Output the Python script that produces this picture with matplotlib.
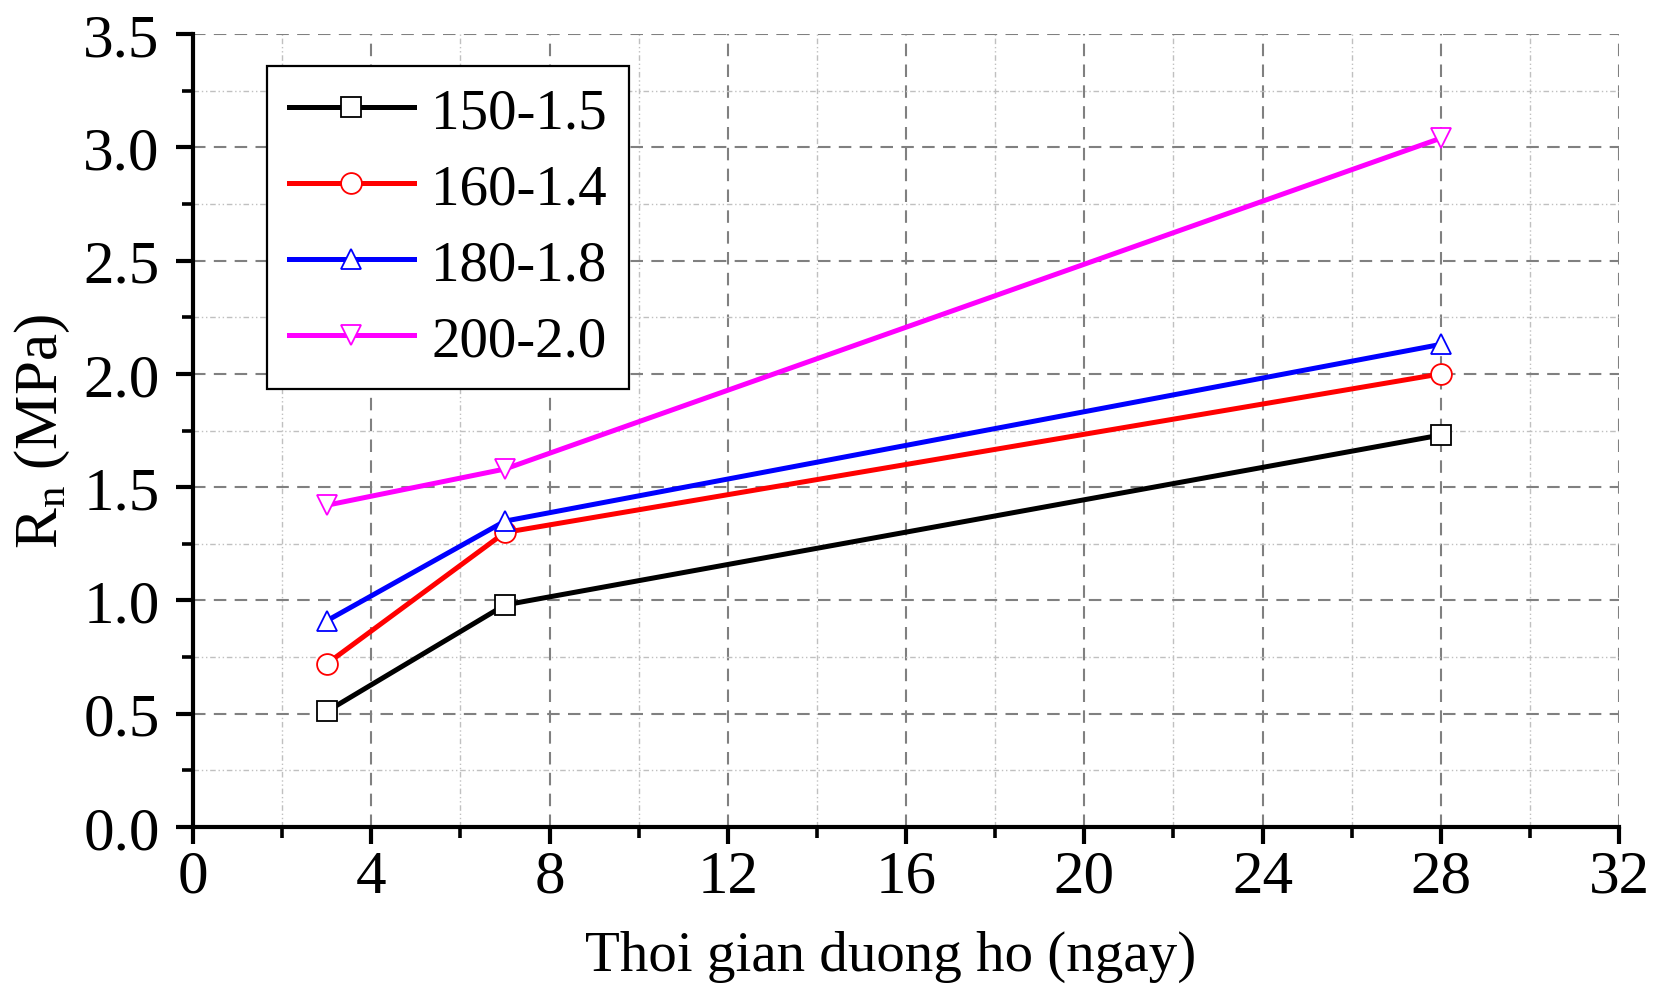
import numpy as np
import matplotlib
matplotlib.use("Agg")
from matplotlib import pyplot as plt
from matplotlib.ticker import MultipleLocator

plt.rcParams['font.family'] = ['Liberation Serif', 'DejaVu Serif']
plt.rcParams['mathtext.fontset'] = 'custom'
plt.rcParams['mathtext.rm'] = 'Liberation Serif'
plt.rcParams['mathtext.it'] = 'Liberation Serif:italic'

# curing time (days)
days = [3, 7, 28]
labels = ['150-1.5', '160-1.4', '180-1.8', '200-2.0']
r_150 = [0.51, 0.98, 1.73]
r_160 = [0.72, 1.30, 2.00]
r_180 = [0.91, 1.35, 2.13]
r_200 = [1.42, 1.58, 3.04]

series = [r_150, r_160, r_180, r_200]
colors = ['black', 'red', 'blue', 'magenta']
markers = ['s', 'o', '^', 'v']

fig = plt.figure(figsize=(16.62, 9.95), dpi=100)
ax = fig.add_axes([193 / 1662, 1 - 828 / 995, (1619 - 193) / 1662, (828 - 35) / 995])

# grid first so lines sit on top
ax.set_axisbelow(True)
ax.grid(which='major', color='#808080', linestyle=(0, (6, 4)), linewidth=1.5)
ax.grid(which='minor', color='#c0c0c0', linestyle=(0, (4, 2, 1, 2, 1, 2)), linewidth=1.0)

for vals, c, m, lab in zip(series, colors, markers, labels):
    ax.plot(days, vals, color=c, linewidth=3.6, marker=m, markersize=15,
            markerfacecolor='white', markeredgecolor=c, markeredgewidth=1.3,
            label=lab, clip_on=False)

ax.set_xlim(0, 32)
ax.set_ylim(0, 3.5)
ax.xaxis.set_major_locator(MultipleLocator(4))
ax.xaxis.set_minor_locator(MultipleLocator(2))
ax.yaxis.set_major_locator(MultipleLocator(0.5))
ax.yaxis.set_minor_locator(MultipleLocator(0.25))
ax.yaxis.set_major_formatter(matplotlib.ticker.FormatStrFormatter('%.1f'))

for side in ['top', 'right']:
    ax.spines[side].set_visible(False)
for side in ['left', 'bottom']:
    ax.spines[side].set_linewidth(3.0)

ax.tick_params(which='major', direction='out', length=12, width=3.0, labelsize=44)
ax.tick_params(which='minor', direction='out', length=8, width=2.6)
ax.tick_params(axis='x', which='major', pad=4)
ax.tick_params(axis='y', which='major', pad=12)

ax.set_xlabel('Thoi gian duong ho (ngay)', fontsize=41, labelpad=18, x=0.489)
ax.set_ylabel('R$_\\mathrm{n}$ (MPa)', fontsize=44, labelpad=8)

leg = ax.legend(loc='upper left', bbox_to_anchor=(0.052, 0.96), fontsize=41,
                handlelength=2.2, handletextpad=0.3, borderpad=0.38,
                labelspacing=0.42, borderaxespad=0, fancybox=False, framealpha=1)
leg.get_frame().set_edgecolor('black')
leg.get_frame().set_linewidth(1.6)

fig.savefig('out.png', dpi=100)
